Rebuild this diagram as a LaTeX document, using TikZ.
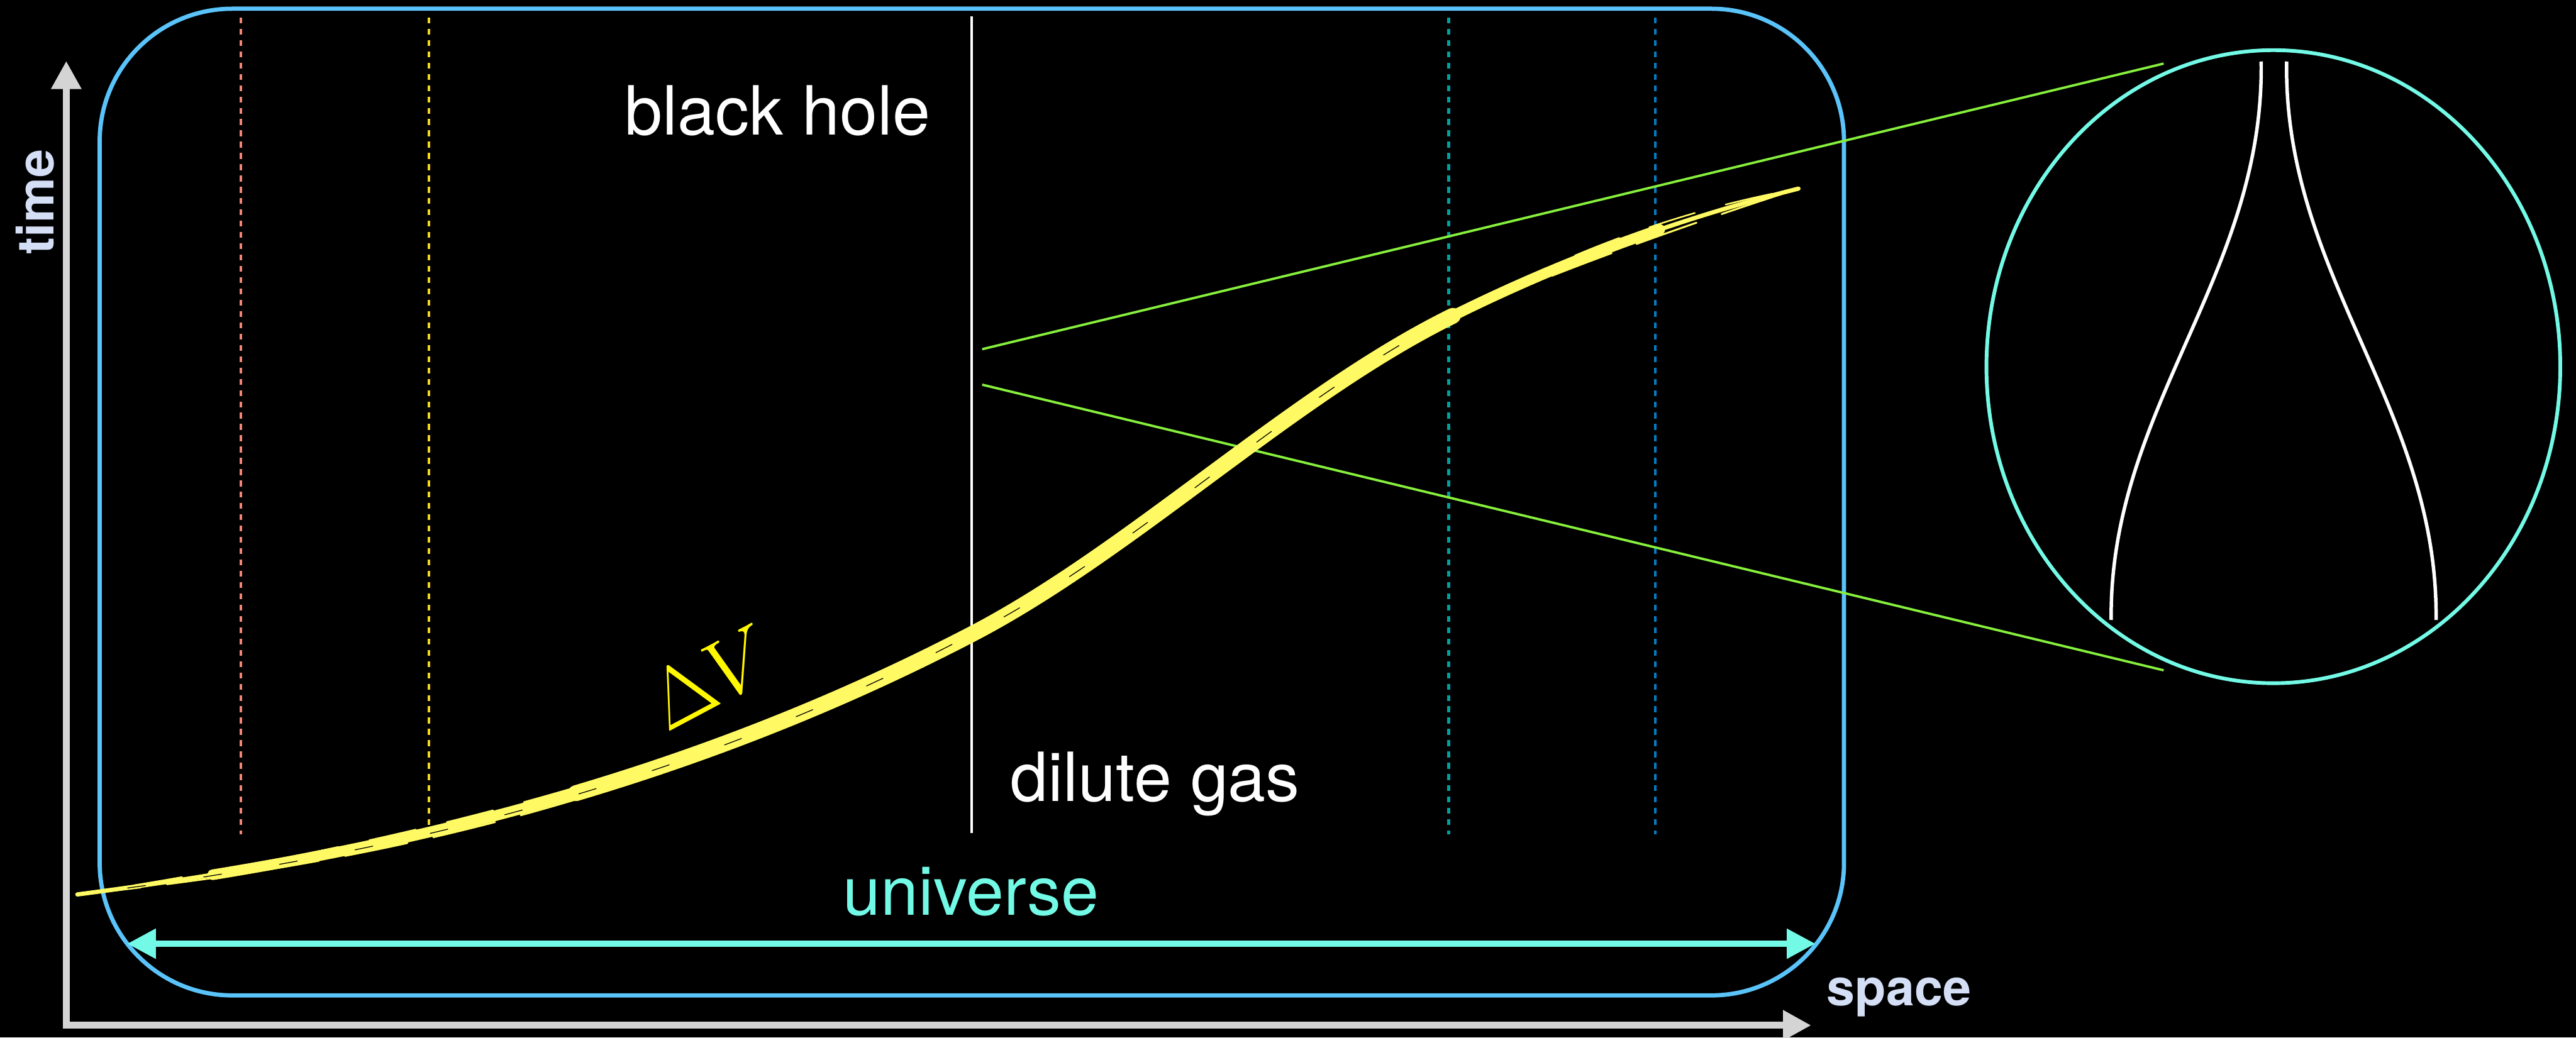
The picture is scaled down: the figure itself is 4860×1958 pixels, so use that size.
\documentclass[tikz,border=0pt]{standalone}
\usepackage{fontspec}
\setmainfont{TeX Gyre Heros}
\usetikzlibrary{arrows.meta,shapes.geometric}
\definecolor{axgray}{RGB}{212,212,212}
\definecolor{axlab}{RGB}{212,222,245}
\definecolor{boxblue}{RGB}{90,195,250}
\definecolor{ucyan}{RGB}{115,250,230}
\definecolor{lgreen}{RGB}{135,240,60}
\definecolor{gsalmon}{RGB}{242,135,120}
\definecolor{gyellow}{RGB}{245,215,30}
\definecolor{gteal}{RGB}{0,160,160}
\definecolor{gblue}{RGB}{0,125,195}
\definecolor{brush}{RGB}{255,250,100}
\definecolor{dvyel}{RGB}{255,248,0}
\tikzset{
  lbl/.style={text=white, font=\fontsize{36.4}{44}\selectfont, inner sep=0pt},
  axlbl/.style={text=axlab, font=\bfseries\fontsize{27.3}{32}\selectfont, inner sep=0pt},
  guide/.style={line width=0.05cm, dash pattern=on 0.11cm off 0.103cm},
  axisline/.style={draw=axgray, line width=0.13cm, line join=miter,
    arrows={Triangle[length=0.53cm,width=0.54cm]-Triangle[length=0.53cm,width=0.54cm]}},
  uarrow/.style={draw=ucyan, line width=0.12cm,
    arrows={Triangle[length=0.54cm,width=0.54cm]-Triangle[length=0.54cm,width=0.54cm]}},
  zline/.style={draw=lgreen, line width=0.045cm},
  wline/.style={draw=white, line width=0.065cm},
  brushline/.style={draw=brush, line cap=round, line join=round},
}
\begin{document}
\begin{tikzpicture}[x=0.01cm,y=-0.01cm]
\useasboundingbox (0,0) rectangle (4860,1958);
\fill[black] (0,0) rectangle (4860,1958);

% dashed guides
\coordinate (r1) at (454,33);  \coordinate (r2) at (454,1575);
\coordinate (y1) at (809,33);  \coordinate (y2) at (809,1575);
\coordinate (t1) at (2733,33); \coordinate (t2) at (2733,1575);
\coordinate (b1) at (3123,33); \coordinate (b2) at (3123,1575);
\draw[guide, draw=gsalmon] (r1) -- (r2);
\draw[guide, draw=gyellow] (y1) -- (y2);
\draw[guide, draw=gteal] (t1) -- (t2);
\draw[guide, draw=gblue] (b1) -- (b2);

% white divider
\coordinate (w1) at (1833,31); \coordinate (w2) at (1833,1572);
\draw[draw=white, line width=0.05cm] (w1) -- (w2);

% universe box
\node[draw=boxblue, line width=0.08cm, rounded corners=2.5cm,
      minimum width=32.89cm, minimum height=18.61cm, inner sep=0pt]
      (box) at (1833.5,947.5) {};

% axes
\coordinate (tTip) at (125,115);
\coordinate (orig) at (125,1935);
\coordinate (sTip) at (3417,1935);
\draw[axisline] (tTip) -- (orig) -- (sTip);
\node[axlbl, anchor=base, rotate=90] (tl) at (102,381) {time};
\node[axlbl, anchor=base west] (sl) at (3446,1898) {space};

% universe arrow
\coordinate (uL) at (240,1781);
\coordinate (uR) at (3425,1781);
\draw[uarrow] (uL) -- (uR);
\node[lbl, text=ucyan, anchor=base] (un) at (1832,1727) {universe};

% labels
\node[lbl, anchor=base west] (bh) at (1178,254) {black hole};
\node[lbl, anchor=base west] (dg) at (1906,1512) {dilute gas};

% zoom lens
\node[draw=ucyan, line width=0.07cm, ellipse, minimum width=10.82cm,
      minimum height=11.94cm, inner sep=0pt] (lens) at (4289,692) {};
\coordinate (gA1) at (1853,659); \coordinate (gA2) at (4082,120);
\coordinate (gB1) at (1853,726); \coordinate (gB2) at (4082,1265);
\draw[zline] (gA1) -- (gA2);
\draw[zline] (gB1) -- (gB2);
\coordinate (L1) at (4266,116); \coordinate (L2) at (3983,1170);
\coordinate (R1) at (4314,116); \coordinate (R2) at (4596,1170);
\draw[wline] (L1) .. controls (4272,520) and (3979,770) .. (L2);
\draw[wline] (R1) .. controls (4308,520) and (4600,770) .. (R2);

% brush curve (three cubic pieces)
\coordinate (c0) at (146,1688);
\coordinate (c1) at (1833,1197);
\coordinate (c2) at (2733,600);
\coordinate (c3) at (3393,356);
\draw[brushline, line width=0.08cm]
  (c0) .. controls (708,1615) and (1271,1489) .. (c1)
       .. controls (2133,1041) and (2433,750) .. (c2)
       .. controls (2953,490) and (3173,411) .. (c3);
\draw[brushline, line width=0.20cm, dash pattern=on 30.2cm off 60cm, dash phase=87.62cm]
  (c0) .. controls (708,1615) and (1271,1489) .. (c1)
       .. controls (2133,1041) and (2433,750) .. (c2)
       .. controls (2953,490) and (3173,411) .. (c3);
\draw[brushline, line width=0.30cm, dash pattern=on 18.95cm off 60cm, dash phase=69.35cm]
  (c0) .. controls (708,1615) and (1271,1489) .. (c1)
       .. controls (2133,1041) and (2433,750) .. (c2)
       .. controls (2953,490) and (3173,411) .. (c3);
\begin{scope}[shift={(0,16)}]
\draw[brushline, line width=0.035cm, dash pattern=on 1.2cm off 0.5cm]
  (c0) .. controls (708,1615) and (1271,1489) .. (c1)
       .. controls (2133,1041) and (2433,750) .. (c2)
       .. controls (2953,490) and (3173,411) .. (c3);
\end{scope}
\begin{scope}[shift={(0,-15)}]
\draw[brushline, line width=0.03cm, dash pattern=on 0.9cm off 0.6cm, dash phase=0.4cm]
  (c0) .. controls (708,1615) and (1271,1489) .. (c1)
       .. controls (2133,1041) and (2433,750) .. (c2)
       .. controls (2953,490) and (3173,411) .. (c3);
\end{scope}
\begin{scope}[shift={(0,4)}]
\draw[black, line width=0.015cm, dash pattern=on 0.35cm off 1.1cm, dash phase=0.5cm]
  (c0) .. controls (708,1615) and (1271,1489) .. (c1)
       .. controls (2133,1041) and (2433,750) .. (c2);
\end{scope}

% Delta V
\node[text=dvyel, rotate=28, scale=1.8, inner sep=0pt] (dv) at (1341,1278)
  {\fontsize{24.88}{30}\selectfont $\Delta V$};
\end{tikzpicture}
\end{document}
